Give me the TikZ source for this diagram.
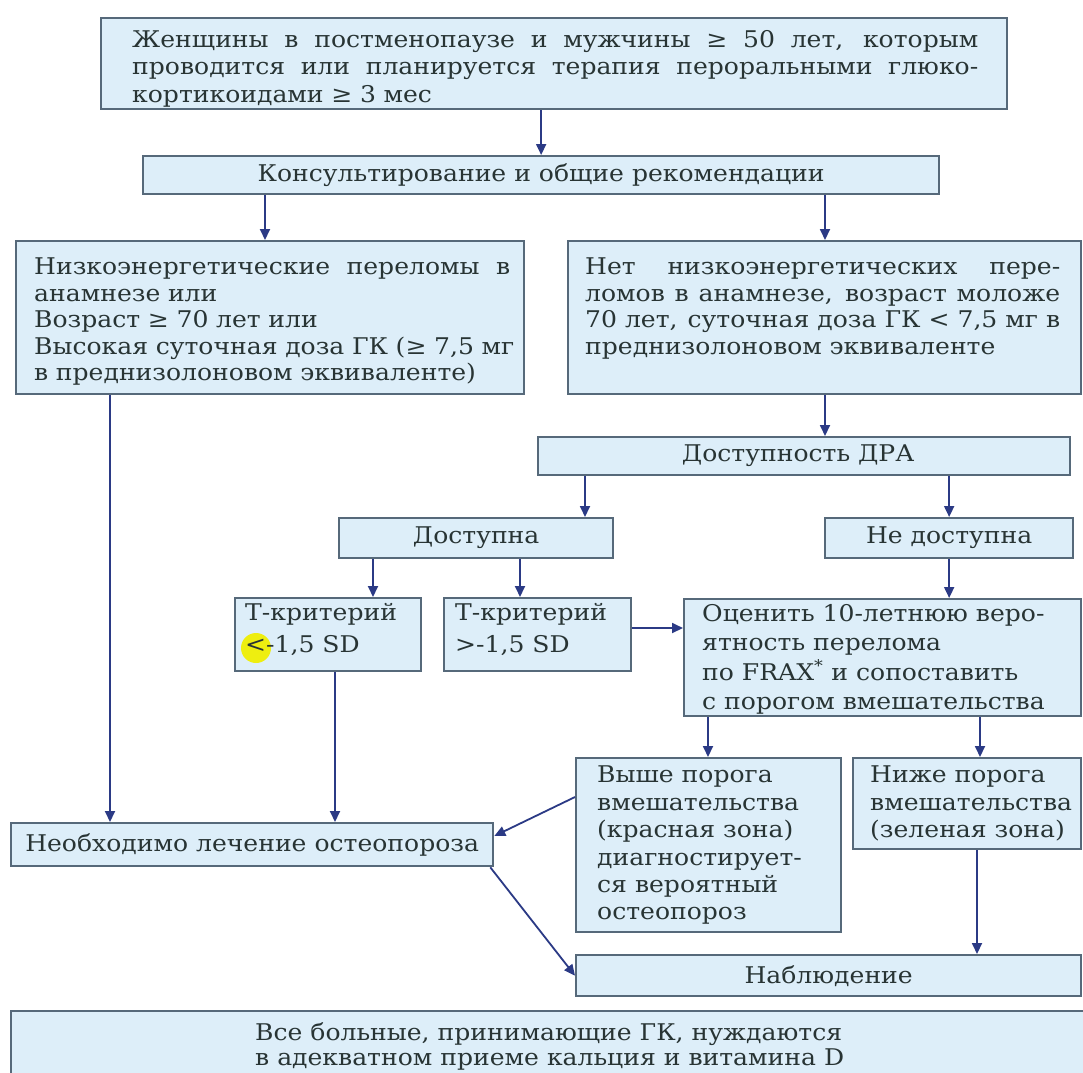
\documentclass[tikz,border=0pt]{standalone}
\usepackage{fontspec}
\setmainfont{DejaVu Serif}[FakeStretch=1.09]
\usetikzlibrary{arrows.meta,calc}
\definecolor{boxfill}{HTML}{DDEEF9}
\definecolor{boxline}{HTML}{56697A}
\definecolor{arrcol}{HTML}{2B3A85}
\definecolor{txtcol}{HTML}{283434}
\definecolor{hilite}{HTML}{EEEE10}
\newcommand\jl[2]{\makebox[#1][s]{\spaceskip=0pt plus 1fil\relax #2}}
\begin{document}
\begin{tikzpicture}[x=1pt,y=-1pt,
  box/.style={draw=boxline, fill=boxfill, line width=2.3pt, inner sep=0pt, anchor=north west, text=txtcol, font=\fontsize{23}{27}\selectfont},
  txt/.style={anchor=north west, inner sep=0pt, text=txtcol, font=\fontsize{23}{26.5}\selectfont, align=left},
  arr/.style={draw=arrcol, line width=1.8pt, -{Triangle[length=11pt,width=10pt]}}]
\useasboundingbox (0,0) rectangle (1083,1072);
\fill[white] (0,0) rectangle (1083,1072);
% boxes
\node[box, minimum width=906pt, minimum height=91pt] (b1) at (100,17) {};
\node[box, minimum width=796pt, minimum height=38pt] (b2) at (142,155) {Консультирование и общие рекомендации};
\node[box, minimum width=508pt, minimum height=153pt] (b3) at (15,240) {};
\node[box, minimum width=513pt, minimum height=153pt] (b4) at (567,240) {};
\node[box, minimum width=532pt, minimum height=38pt] (dra) at (537,436) {\hspace*{-12pt}Доступность ДРА};
\node[box, minimum width=274pt, minimum height=40pt] (dost) at (338,517) {Доступна};
\node[box, minimum width=248pt, minimum height=40pt] (nedost) at (824,517) {Не доступна};
\node[box, minimum width=186pt, minimum height=73pt] (t1) at (234,597) {};
\node[box, minimum width=187pt, minimum height=73pt] (t2) at (443,597) {};
\node[box, minimum width=397pt, minimum height=117pt] (frax) at (683,598) {};
\node[box, minimum width=482pt, minimum height=43pt] (treat) at (10,822) {Необходимо лечение остеопороза};
\node[box, minimum width=265pt, minimum height=174pt] (high) at (575,757) {};
\node[box, minimum width=228pt, minimum height=91pt] (low) at (852,757) {};
\node[box, minimum width=505pt, minimum height=41pt] (nabl) at (575,954) {Наблюдение};
\node[box, minimum width=1100pt, minimum height=100pt] (bot) at (10,1010) {};
% highlight
\fill[hilite] (256,648) circle (15pt);
% texts
\node[txt, text width=860pt, font=\fontsize{23}{27.5}\selectfont] (b1t) at (132,30) {\jl{846pt}{Женщины в постменопаузе и мужчины ≥ 50 лет, которым}\\
\jl{846pt}{проводится или планируется терапия пероральными глюко-}\\
кортикоидами ≥ 3 мес};
\node[txt, text width=486pt] (b3t) at (34,258) {\jl{476pt}{Низкоэнергетические переломы в}\\
анамнезе или\\
Возраст ≥ 70 лет или\\
Высокая суточная доза ГК (≥ 7,5 мг\\
в преднизолоновом эквиваленте)};
\node[txt, text width=490pt] (b4t) at (585,258) {\jl{475pt}{Нет низкоэнергетических пере-}\\
\jl{475pt}{ломов в анамнезе, возраст моложе}\\
\jl{475pt}{70 лет, суточная доза ГК < 7,5 мг в}\\
преднизолоновом эквиваленте};
\node[txt, font=\fontsize{23}{32}\selectfont] (t1t) at (245,603) {Т-критерий\\<-1,5 SD};
\node[txt, font=\fontsize{23}{32}\selectfont] (t2t) at (455,603) {Т-критерий\\>-1,5 SD};
\node[txt, font=\fontsize{23}{29.5}\selectfont] (fraxt) at (702,604) {Оценить 10-летнюю веро-\\ятность перелома\\по FRAX\textsuperscript{*} и сопоставить\\с порогом вмешательства};
\node[txt, font=\fontsize{23}{27.4}\selectfont] (hight) at (597,766) {Выше порога\\вмешательства\\(красная зона)\\диагностирует-\\ся вероятный\\остеопороз};
\node[txt, font=\fontsize{23}{27.4}\selectfont] (lowt) at (870,766) {Ниже порога\\вмешательства\\(зеленая зона)};
\node[txt, font=\fontsize{23}{25}\selectfont] (bott) at (255,1022) {Все больные, принимающие ГК, нуждаются\\в адекватном приеме кальция и витамина D};
% arrows
\draw[arr] (b2.north |- b1.south) -- (b2.north);
\draw[arr] ([xshift=123pt]b2.south west) -- ([xshift=123pt]b2.south west |- b3.north);
\draw[arr] ([xshift=258pt]b4.north west |- b2.south) -- ([xshift=258pt]b4.north west);
\draw[arr] ([xshift=95pt]b3.south west) -- ([xshift=100pt]treat.north west);
\draw[arr] ([xshift=258pt]b4.south west) -- ([xshift=258pt]b4.south west |- dra.north);
\draw[arr] ([xshift=48pt]dra.south west) -- ([xshift=48pt]dra.south west |- dost.north);
\draw[arr] (nedost.north |- dra.south) -- (nedost.north);
\draw[arr] ([xshift=35pt]dost.south west) -- ([xshift=35pt]dost.south west |- t1.north);
\draw[arr] ([xshift=182pt]dost.south west) -- ([xshift=182pt]dost.south west |- t2.north);
\draw[arr] (nedost.south) -- (nedost.south |- frax.north);
\draw[arr] ([yshift=-31pt]t2.north east) -- ([yshift=-31pt]t2.north east -| frax.west);
\draw[arr] ([xshift=101pt]t1.south west) -- ([xshift=101pt]t1.south west |- treat.north);
\draw[arr] ([xshift=25pt]frax.south west) -- ([xshift=25pt]frax.south west |- high.north);
\draw[arr] ([xshift=297pt]frax.south west) -- ([xshift=297pt]frax.south west |- low.north);
\draw[arr] ([yshift=-40pt]high.north west) -- ([yshift=-14pt]treat.north east);
\draw[arr] ([xshift=-4pt]treat.south east) -- (nabl.west);
\draw[arr] ([xshift=125pt]low.south west) -- ([xshift=125pt]low.south west |- nabl.north);
\end{tikzpicture}
\end{document}
